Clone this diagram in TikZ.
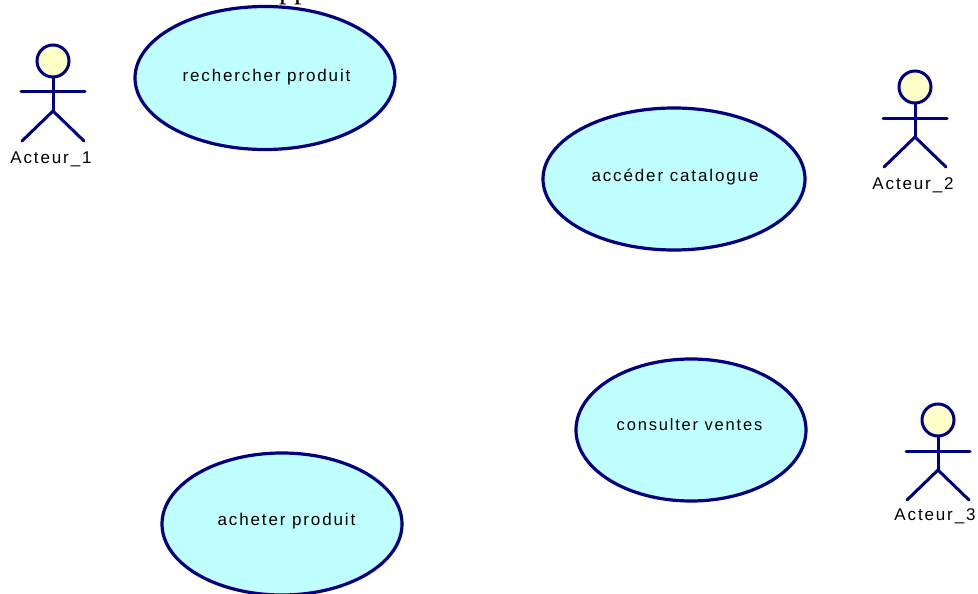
\documentclass[tikz,border=0pt]{standalone}
\usepackage{fontspec}
\setmainfont{Liberation Sans}[LetterSpace=11]
\newfontfamily\serifpp{Liberation Serif}
\usetikzlibrary{shapes.geometric}
\definecolor{ucline}{RGB}{0,0,128}
\definecolor{ucfill}{RGB}{192,255,255}
\definecolor{acfill}{RGB}{255,255,200}
\tikzset{
 x=1pt,y=-1pt,
 usecase/.style={ellipse,draw=ucline,fill=ucfill,line width=3.2pt,inner sep=0pt,outer sep=0pt},
 lbl/.style={inner sep=0pt,font=\fontsize{17}{19}\selectfont,text=black},
 limb/.style={draw=ucline,line width=3pt,line cap=round},
 actor/.pic={
  \coordinate (-neck) at (0,-20);
  \coordinate (-hip) at (0,19);
  \coordinate (-la) at (-32,0);
  \coordinate (-ra) at (32,0);
  \coordinate (-lf) at (-31,49);
  \coordinate (-rf) at (31,49);
  \draw[limb] (-neck) -- (-hip);
  \draw[limb] (-la) -- (-ra);
  \draw[limb] (-lf) -- (-hip) -- (-rf);
  \node[circle,draw=ucline,fill=acfill,line width=3pt,minimum size=32pt,inner sep=0pt] (-head) at (0,-31) {};
 }
}
\begin{document}
\begin{tikzpicture}
\useasboundingbox (0,0) rectangle (978,594);
\clip (0,0) rectangle (978,594);
\node[inner sep=0pt,font=\fontsize{30}{32}\selectfont\serifpp,anchor=base] (titlefrag) at (294,-1.5) {pp};
\node[usecase,minimum width=260pt,minimum height=143pt] (u1) at (265,78) {};
\node[lbl] at (266.5,77) (t1) {rechercher produit};
\node[usecase,minimum width=262pt,minimum height=142pt] (u2) at (674,179) {};
\node[lbl] at (675,177) (t2) {accéder catalogue};
\node[usecase,minimum width=230pt,minimum height=142pt] (u3) at (691,430) {};
\node[lbl,font=\fontsize{16.5}{19}\selectfont] at (689.5,425) (t3) {consulter ventes};
\node[usecase,minimum width=240pt,minimum height=142pt] (u4) at (282,524) {};
\node[lbl] at (286.5,521) (t4) {acheter produit};
\pic (a1) at (53,92) {actor};
\node[lbl] at (51,159) (l1) {Acteur\_1};
\pic (a2) at (915,118) {actor};
\node[lbl] at (913,185) (l2) {Acteur\_2};
\pic (a3) at (938,451) {actor};
\node[lbl] at (935,516) (l3) {Acteur\_3};
\end{tikzpicture}
\end{document}
